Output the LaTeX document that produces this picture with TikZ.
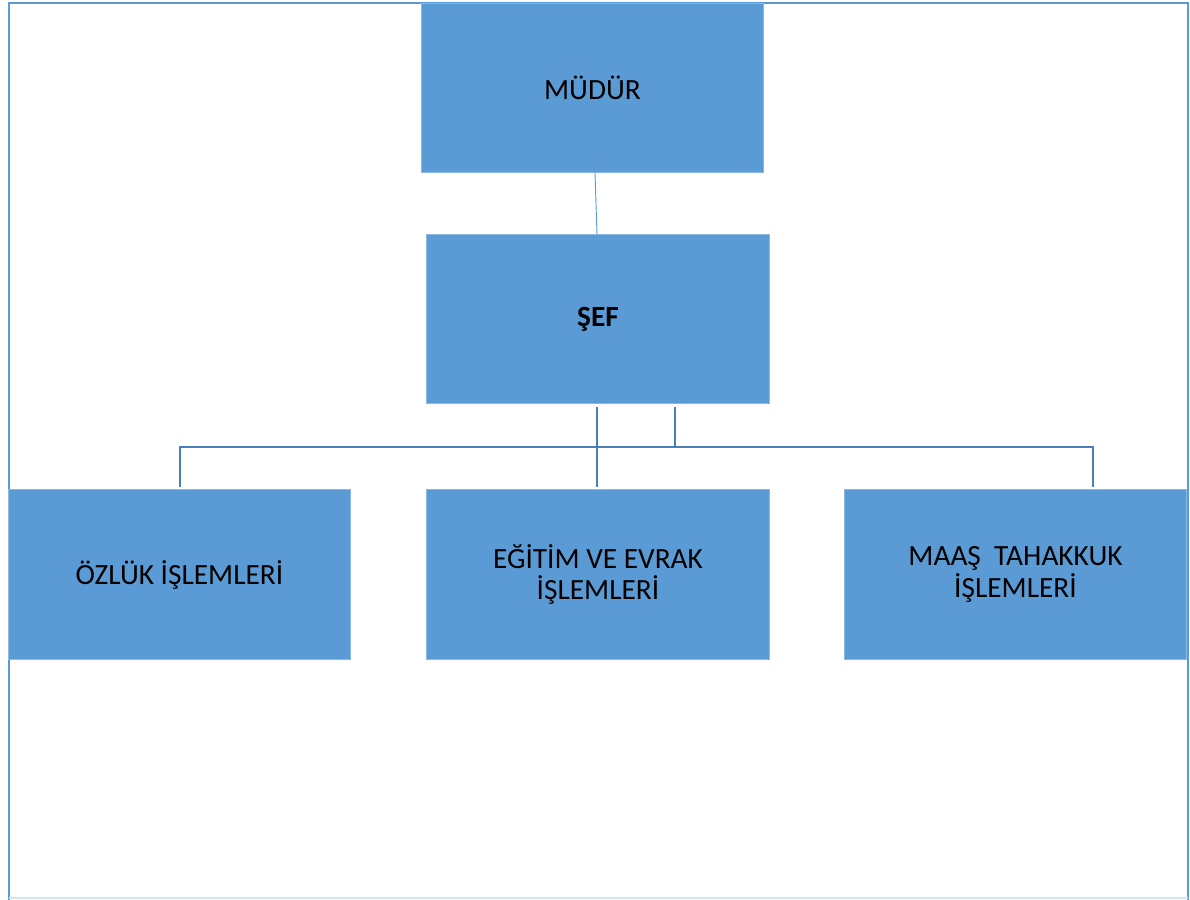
\documentclass[tikz,border=0pt]{standalone}
\usepackage{fontspec}
\setmainfont{Carlito}
\definecolor{boxfill}{HTML}{5B9BD5}
\definecolor{boxedge}{HTML}{8DB7E3}
\definecolor{conn}{HTML}{4A7EBB}
\definecolor{frame}{HTML}{5B9BD5}
\definecolor{framelight}{HTML}{D6E3F1}
\begin{document}
\begin{tikzpicture}[x=0.75pt,y=-0.75pt,
  orgbox/.style={rectangle, fill=boxfill, draw=boxedge, line width=0.6pt,
    minimum width=257pt, minimum height=127pt, inner sep=0pt, outer sep=0pt,
    align=center, font=\fontsize{22}{23.5}\selectfont, text=black},
  link/.style={draw=conn, line width=1.6pt},
  thinlink/.style={draw=boxfill, line width=0.7pt}]
\useasboundingbox (0,0) rectangle (1190,900);
% outer frame
\draw[frame, line width=1.5pt] (9,900) -- (9,3) -- (1188,3) -- (1188,900);
\draw[framelight, line width=1pt] (9,898) -- (1188,898);
% boxes
\node[orgbox] (mudur) at (592.5,88) {MÜDÜR};
\node[orgbox] (sef) at (598,319) {\textbf{ŞEF}};
\node[orgbox] (ozluk) at (179.5,574.5) {ÖZLÜK İŞLEMLERİ};
\node[orgbox] (egitim) at (598,574.5) {EĞİTİM VE EVRAK\\İŞLEMLERİ};
\node[orgbox] (maas) at (1015.5,574.5) {MAAŞ\ \ TAHAKKUK\\İŞLEMLERİ};
% connectors
\draw[thinlink] (mudur.south -| 595,0) -- (sef.north -| 597,0);
\coordinate (s1) at (597,407);
\coordinate (s2) at (675,407);
\coordinate (h1) at (597,447);
\coordinate (h2) at (675,447);
\coordinate (hl) at (180,447);
\coordinate (hr) at (1093,447);
\coordinate (e1) at (180,487);
\coordinate (e2) at (597,487);
\coordinate (e3) at (1093,487);
\draw[link] (s1) -- (e2);
\draw[link] (s2) -- (h2);
\draw[link] (e1) -- (hl) -- (hr) -- (e3);
\end{tikzpicture}
\end{document}
